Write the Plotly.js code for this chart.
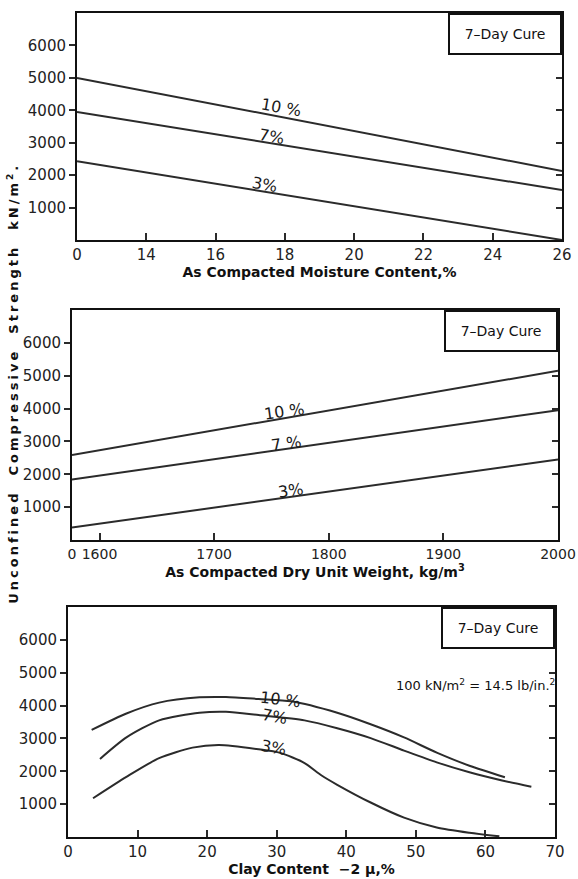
<!DOCTYPE html>
<html>
<head>
<meta charset="utf-8">
<script src="https://cdn.plot.ly/plotly-3.0.1.min.js"></script>
<style>html,body{margin:0;padding:0;background:#fff;}#chart{width:578px;height:879px;}</style>
</head>
<body>
<div id="chart"></div>
<script>
// ---------- Panel 1: strength vs as-compacted moisture content ----------
const moistureX = [12, 26];
const moisture10 = [5000, 2130];
const moisture7 = [3950, 1540];
const moisture3 = [2430, 0];
const moistureTickVals = [12, 14, 16, 18, 20, 22, 24, 26];
const moistureTickText = ['0', '14', '16', '18', '20', '22', '24', '26'];

// ---------- Panel 2: strength vs as-compacted dry unit weight ----------
const weightX = [1576, 2000];
const weight10 = [2590, 5150];
const weight7 = [1840, 3950];
const weight3 = [380, 2450];
const weightTickVals = [1576, 1600, 1700, 1800, 1900, 2000];
const weightTickText = ['0', '1600', '1700', '1800', '1900', '2000'];

// ---------- Panel 3: strength vs clay content ----------
const clay10X = [3.4, 8.4, 13.1, 18.9, 22.7, 27.4, 32.1, 38.7, 43.5, 48.3, 53, 57.7, 62.8];
const clay10Y = [3260, 3760, 4090, 4250, 4260, 4200, 4130, 3780, 3430, 3030, 2570, 2170, 1820];
const clay7X = [4.6, 8.4, 13.1, 18.9, 22.7, 27.4, 34, 38.7, 43.5, 48.3, 53, 57.7, 62.4, 66.6];
const clay7Y = [2375, 3030, 3550, 3780, 3810, 3710, 3550, 3310, 3010, 2630, 2270, 1970, 1720, 1530];
const clay3X = [3.6, 8.4, 13.1, 17.9, 21.7, 27.4, 30.5, 34, 36.4, 38.7, 43.5, 48.3, 53, 57.7, 62];
const clay3Y = [1180, 1830, 2400, 2720, 2800, 2670, 2560, 2250, 1880, 1590, 1050, 590, 290, 130, 20];
const clayTickVals = [0, 10, 20, 30, 40, 50, 60, 70];
const clayTickText = ['0', '10', '20', '30', '40', '50', '60', '70'];

const strengthTickVals = [1000, 2000, 3000, 4000, 5000, 6000];
const strengthTickText = ['1000', '2000', '3000', '4000', '5000', '6000'];

const INK = '#2b2b2b';
const FONT = 'DejaVu Sans, Liberation Sans, sans-serif';
const lineStyle = {color: INK, width: 2};

function tr(x, y, xa, ya, name, spline) {
  return {x: x, y: y, xaxis: xa, yaxis: ya, name: name, mode: 'lines', type: 'scatter',
          line: Object.assign({shape: spline ? 'spline' : 'linear', smoothing: 0.7}, lineStyle),
          hoverinfo: 'skip', showlegend: false};
}

// The 10% curve of each panel is drawn against a right-hand axis with the same
// domain and range, which carries the inward-pointing right-side ticks.
const data = [
  tr(moistureX, moisture10, 'x', 'y4', '10%'),
  tr(moistureX, moisture7, 'x', 'y', '7%'),
  tr(moistureX, moisture3, 'x', 'y', '3%'),
  tr(weightX, weight10, 'x2', 'y5', '10%'),
  tr(weightX, weight7, 'x2', 'y2', '7%'),
  tr(weightX, weight3, 'x2', 'y2', '3%'),
  tr(clay10X, clay10Y, 'x3', 'y6', '10%', true),
  tr(clay7X, clay7Y, 'x3', 'y3', '7%', true),
  tr(clay3X, clay3Y, 'x3', 'y3', '3%', true)
];

function xAxis(domain, range, vals, text, anchor, title, fs) {
  return {domain: domain, range: range, anchor: anchor, tickmode: 'array', tickvals: vals, ticktext: text,
          tickangle: 0,
          ticks: 'inside', ticklen: 7, tickwidth: 2, tickcolor: INK,
          showline: true, linewidth: 2, linecolor: '#111', mirror: true,
          showgrid: false, zeroline: false, fixedrange: true,
          tickfont: {family: FONT, size: fs || 15, color: '#222'},
          title: {text: title, standoff: 2, font: {family: FONT, size: 14, color: '#111', weight: 'bold'}}};
}
function yAxis(domain, anchor) {
  return {domain: domain, range: [0, 7000], anchor: anchor, tickmode: 'array',
          tickvals: strengthTickVals, ticktext: strengthTickText,
          ticks: 'outside', ticklen: 6, tickwidth: 2, tickcolor: INK,
          showline: true, linewidth: 2, linecolor: '#111', mirror: true,
          showgrid: false, zeroline: false, fixedrange: true,
          tickfont: {family: FONT, size: 15, color: '#222'}};
}
function rightTicks(domain, anchor) {
  return {domain: domain, anchor: anchor, side: 'right', range: [0, 7000], autorange: false,
          tickmode: 'array', tickvals: strengthTickVals, ticktext: ['', '', '', '', '', ''],
          ticks: 'inside', ticklen: 6, tickwidth: 2, tickcolor: INK,
          showticklabels: true, showline: false,
          showgrid: false, zeroline: false, fixedrange: true};
}

const d1x = [77/578, 562/578], d1y = [1 - 240/879, 1 - 13/879];
const d2x = [72/578, 558/578], d2y = [1 - 540/879, 1 - 310/879];
const d3x = [68/578, 555/578], d3y = [1 - 837/879, 1 - 607/879];

function cureBox(xr, yr) {
  return {xref: xr, yref: yr, x: 1, y: 1, xanchor: 'right', yanchor: 'top', showarrow: false,
          text: '7\u2013Day Cure', width: 110, height: 38, align: 'center', valign: 'middle',
          bordercolor: '#111', borderwidth: 2, borderpad: 0, bgcolor: '#fff',
          font: {family: FONT, size: 14, color: '#111'}};
}
function pct(text, x, y, xr, yr, ang) {
  return {xref: xr, yref: yr, x: x, y: y, text: text, showarrow: false, textangle: ang,
          font: {family: FONT, size: 16, color: '#1a1a1a'}};
}

const layout = {
  width: 578, height: 879,
  margin: {l: 0, r: 0, t: 0, b: 0},
  paper_bgcolor: '#fff', plot_bgcolor: 'rgba(0,0,0,0)',
  showlegend: false,
  xaxis: xAxis(d1x, [12, 26], moistureTickVals, moistureTickText, 'y', 'As Compacted Moisture Content,%'),
  yaxis: yAxis(d1y, 'x'),
  xaxis2: xAxis(d2x, [1576, 2000], weightTickVals, weightTickText, 'y2', 'As Compacted Dry Unit Weight, kg/m<sup>3</sup>', 14),
  yaxis2: yAxis(d2y, 'x2'),
  xaxis3: xAxis(d3x, [0, 70], clayTickVals, clayTickText, 'y3', 'Clay Content  \u22122 \u03bc,%'),
  yaxis3: yAxis(d3y, 'x3'),
  yaxis4: rightTicks(d1y, 'x'),
  yaxis5: rightTicks(d2y, 'x2'),
  yaxis6: rightTicks(d3y, 'x3'),
  annotations: [
    cureBox('x domain', 'y domain'),
    cureBox('x2 domain', 'y2 domain'),
    cureBox('x3 domain', 'y3 domain'),
    pct('10 %', 17.9, 4100, 'x', 'y', 10),
    pct('7%', 17.6, 3200, 'x', 'y', 10),
    pct('3%', 17.4, 1720, 'x', 'y', 10),
    pct('10 %', 1761, 3900, 'x2', 'y2', -8),
    pct('7 %', 1763, 2950, 'x2', 'y2', -8),
    pct('3%', 1767, 1520, 'x2', 'y2', -8),
    pct('10 %', 30.5, 4170, 'x3', 'y3', 7),
    pct('7%', 29.7, 3680, 'x3', 'y3', 10),
    pct('3%', 29.6, 2710, 'x3', 'y3', 10),
    {xref: 'x3 domain', yref: 'y3', x: 1.005, y: 4620, xanchor: 'right', showarrow: false,
     text: '100 kN/m<sup>2</sup> = 14.5 lb/in.<sup>2</sup>', font: {family: FONT, size: 13, color: '#111'}},
    {xref: 'paper', yref: 'paper', x: 13/578, y: 1 - 383/879, xanchor: 'center', yanchor: 'middle',
     showarrow: false, textangle: -90,
     text: 'Unconfined  Compressive  Strength  kN/m<sup>2</sup>.',
     font: {family: FONT, size: 13, color: '#111', weight: 'bold'}}
  ]
};

Plotly.newPlot('chart', data, layout, {staticPlot: true, displayModeBar: false}).then(function () {
  document.querySelectorAll('.annotation-text').forEach(function (t) {
    if (t.textContent.indexOf('Unconfined') === 0) t.style.letterSpacing = '3px';
  });
});
</script>
</body>
</html>
